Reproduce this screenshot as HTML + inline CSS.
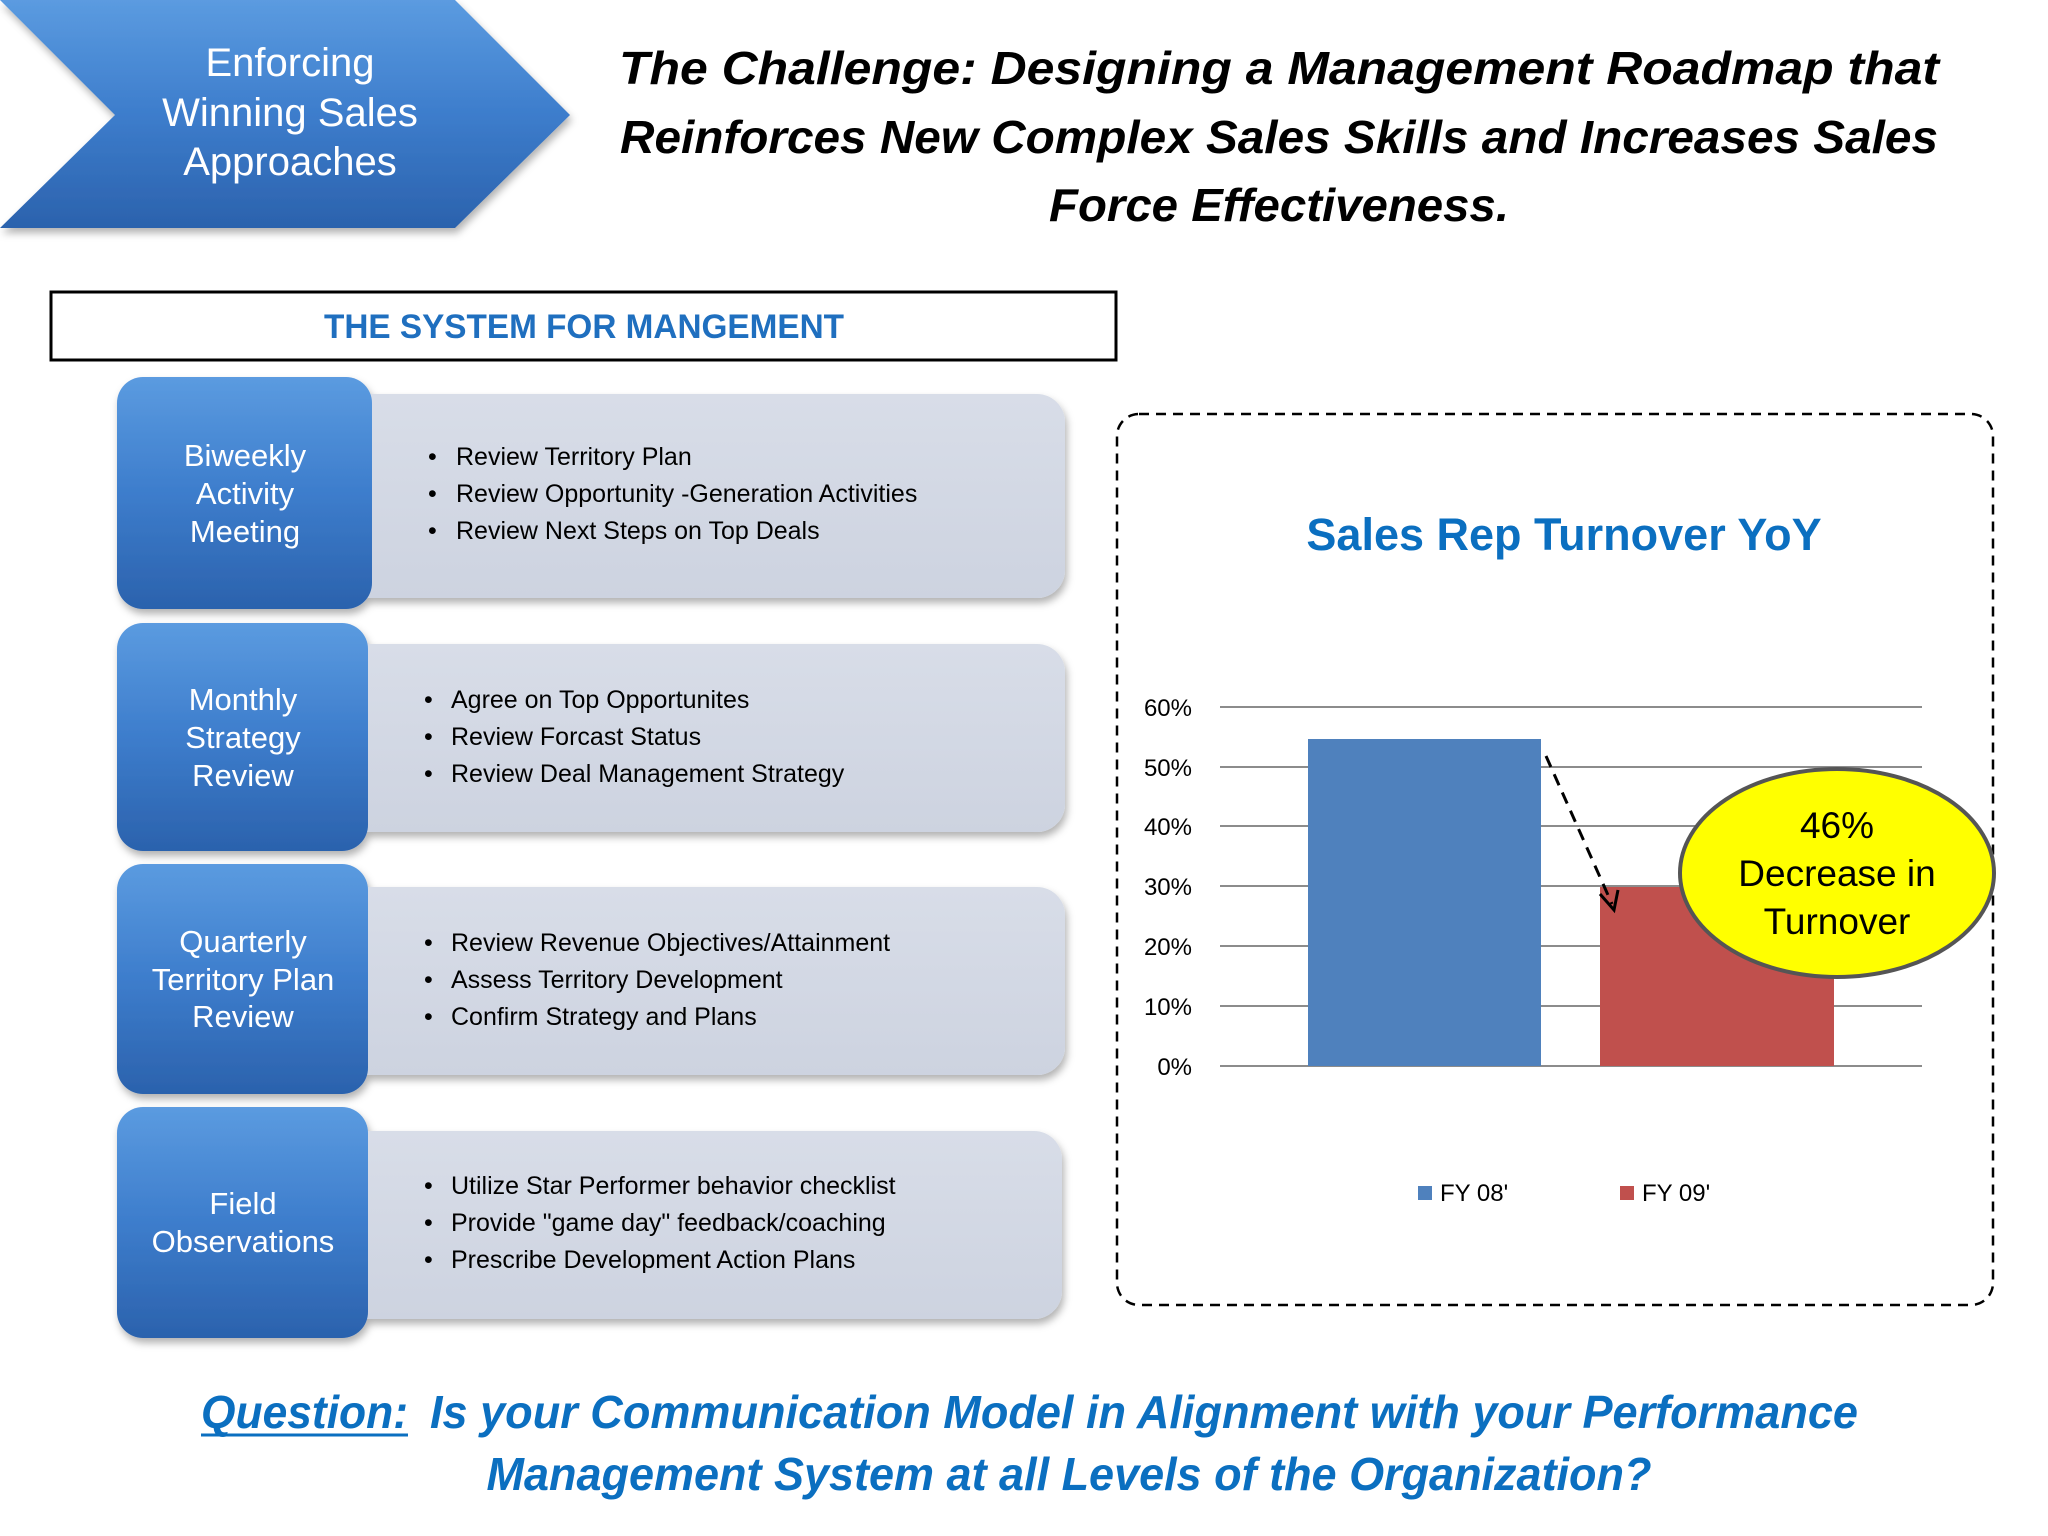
<!DOCTYPE html>
<html><head><meta charset="utf-8"><style>
html,body{margin:0;padding:0;background:#fff}
svg{display:block}
text{font-family:"Liberation Sans",sans-serif}
</style></head><body>
<svg width="2048" height="1536" viewBox="0 0 2048 1536" xmlns="http://www.w3.org/2000/svg">
<defs>
<linearGradient id="bl" x1="0" y1="0" x2="0" y2="1">
<stop offset="0" stop-color="#5b9be0"/><stop offset="0.5" stop-color="#3d7dcc"/><stop offset="1" stop-color="#2b62ad"/></linearGradient>
<linearGradient id="gr" x1="0" y1="0" x2="0" y2="1">
<stop offset="0" stop-color="#d8dde8"/><stop offset="1" stop-color="#cdd3e0"/></linearGradient>
<filter id="sh" x="-10%" y="-10%" width="120%" height="130%"><feDropShadow dx="2" dy="5" stdDeviation="4" flood-color="#000" flood-opacity="0.3"/></filter>
</defs>
<!-- chevron -->
<polygon points="0,0 455,0 570,115 455,228 0,228 115,115" fill="url(#bl)" filter="url(#sh)"/>
<g fill="#fff" font-size="40" text-anchor="middle">
<text x="290" y="76">Enforcing</text><text x="290" y="126">Winning Sales</text><text x="290" y="175">Approaches</text></g>
<!-- title -->
<g font-size="46" font-weight="bold" font-style="italic" text-anchor="middle" fill="#000">
<text x="1279" y="84" textLength="1320" lengthAdjust="spacingAndGlyphs">The Challenge: Designing a Management Roadmap that</text>
<text x="1279" y="153" textLength="1318" lengthAdjust="spacingAndGlyphs">Reinforces New Complex Sales Skills and Increases Sales</text>
<text x="1279" y="221" textLength="460" lengthAdjust="spacingAndGlyphs">Force Effectiveness.</text></g>
<!-- system box -->
<rect x="51" y="292" width="1065" height="68" fill="#fff" stroke="#000" stroke-width="3"/>
<text x="584" y="338" font-size="34" font-weight="bold" fill="#1f6fbf" text-anchor="middle" textLength="520" lengthAdjust="spacingAndGlyphs">THE SYSTEM FOR MANGEMENT</text>
<!-- rows -->
<g filter="url(#sh)">
<rect x="340" y="394" width="725" height="204" rx="28" fill="url(#gr)"/>
<rect x="340" y="644" width="725" height="188" rx="28" fill="url(#gr)"/>
<rect x="340" y="887" width="725" height="188" rx="28" fill="url(#gr)"/>
<rect x="340" y="1131" width="722" height="188" rx="28" fill="url(#gr)"/>
<rect x="117" y="377" width="255" height="232" rx="26" fill="url(#bl)"/>
<rect x="117" y="623" width="251" height="228" rx="26" fill="url(#bl)"/>
<rect x="117" y="864" width="251" height="230" rx="26" fill="url(#bl)"/>
<rect x="117" y="1107" width="251" height="231" rx="26" fill="url(#bl)"/>
</g>
<g fill="#fff" font-size="31" text-anchor="middle">
<text x="245" y="466">Biweekly</text><text x="245" y="504">Activity</text><text x="245" y="542">Meeting</text>
<text x="243" y="710">Monthly</text><text x="243" y="748">Strategy</text><text x="243" y="786">Review</text>
<text x="243" y="952">Quarterly</text><text x="243" y="990">Territory Plan</text><text x="243" y="1027">Review</text>
<text x="243" y="1214">Field</text><text x="243" y="1252">Observations</text></g>
<g font-size="25" fill="#000">
<text x="428" y="465">•</text><text x="456" y="465">Review Territory Plan</text>
<text x="428" y="502">•</text><text x="456" y="502">Review Opportunity -Generation Activities</text>
<text x="428" y="539">•</text><text x="456" y="539">Review Next Steps on Top Deals</text>
<text x="424" y="708">•</text><text x="451" y="708">Agree on Top Opportunites</text>
<text x="424" y="745">•</text><text x="451" y="745">Review Forcast Status</text>
<text x="424" y="782">•</text><text x="451" y="782">Review Deal Management Strategy</text>
<text x="424" y="951">•</text><text x="451" y="951">Review Revenue Objectives/Attainment</text>
<text x="424" y="988">•</text><text x="451" y="988">Assess Territory Development</text>
<text x="424" y="1025">•</text><text x="451" y="1025">Confirm Strategy and Plans</text>
<text x="424" y="1194">•</text><text x="451" y="1194">Utilize Star Performer behavior checklist</text>
<text x="424" y="1231">•</text><text x="451" y="1231">Provide "game day" feedback/coaching</text>
<text x="424" y="1268">•</text><text x="451" y="1268">Prescribe Development Action Plans</text>
</g>
<!-- chart box -->
<rect x="1117" y="414" width="876" height="891" rx="22" fill="#fff" stroke="#000" stroke-width="2.5" stroke-dasharray="10,7"/>
<text x="1564" y="550" font-size="45" font-weight="bold" fill="#0b6fc0" text-anchor="middle">Sales Rep Turnover YoY</text>
<g stroke="#8c8c8c" stroke-width="2">
<line x1="1220" y1="707" x2="1922" y2="707"/><line x1="1220" y1="767" x2="1922" y2="767"/>
<line x1="1220" y1="826" x2="1922" y2="826"/><line x1="1220" y1="886" x2="1922" y2="886"/>
<line x1="1220" y1="946" x2="1922" y2="946"/><line x1="1220" y1="1006" x2="1922" y2="1006"/>
<line x1="1220" y1="1066" x2="1922" y2="1066"/></g>
<g font-size="24" fill="#000" text-anchor="end">
<text x="1192" y="716">60%</text><text x="1192" y="776">50%</text><text x="1192" y="835">40%</text>
<text x="1192" y="895">30%</text><text x="1192" y="955">20%</text><text x="1192" y="1015">10%</text><text x="1192" y="1075">0%</text></g>
<rect x="1308" y="739" width="233" height="327" fill="#4f81bd"/>
<rect x="1600" y="887" width="234" height="179" fill="#c0504d"/>
<line x1="1546" y1="756" x2="1612" y2="904" stroke="#000" stroke-width="3" stroke-dasharray="12,8"/>
<polyline points="1600,894 1614,910 1618,890" fill="none" stroke="#000" stroke-width="3"/>
<ellipse cx="1837" cy="873" rx="157" ry="104" fill="#ffff00" stroke="#555" stroke-width="4"/>
<g font-size="37" text-anchor="middle" fill="#000">
<text x="1837" y="838">46%</text><text x="1837" y="886">Decrease in</text><text x="1837" y="934">Turnover</text></g>
<rect x="1418" y="1186" width="14" height="14" fill="#4f81bd"/>
<text x="1440" y="1201" font-size="24">FY 08'</text>
<rect x="1620" y="1186" width="14" height="14" fill="#c0504d"/>
<text x="1642" y="1201" font-size="24">FY 09'</text>
<!-- question -->
<g font-size="46" font-weight="bold" font-style="italic" fill="#0b6fc0">
<text x="201" y="1428" textLength="207" lengthAdjust="spacingAndGlyphs">Question:</text>
<text x="430" y="1428" textLength="1428" lengthAdjust="spacingAndGlyphs">Is your Communication Model in Alignment with your Performance</text>
<text x="1069" y="1490" text-anchor="middle" textLength="1165" lengthAdjust="spacingAndGlyphs">Management System at all Levels of the Organization?</text></g>
<line x1="201" y1="1435" x2="408" y2="1435" stroke="#0b6fc0" stroke-width="3"/>
</svg>
</body></html>
